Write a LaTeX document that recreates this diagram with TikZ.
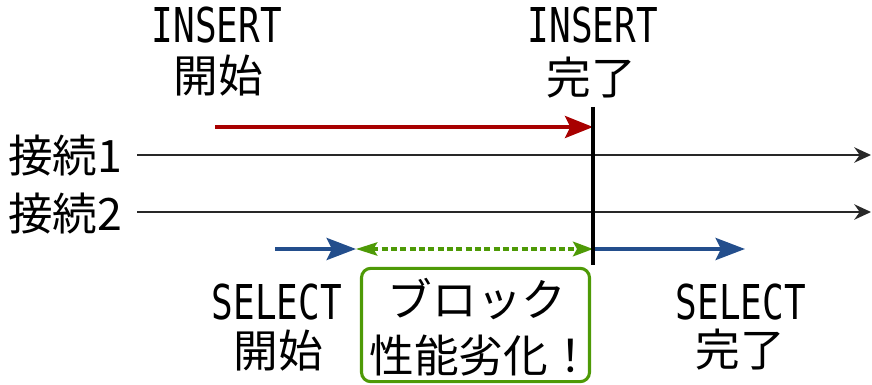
\documentclass[tikz,border=0pt]{standalone}
\usepackage{fontspec}
\newfontfamily\jp{Noto Sans CJK JP}
\newfontfamily\mono[FakeStretch=0.75]{DejaVu Sans Mono}
\usetikzlibrary{arrows.meta}
\definecolor{ired}{RGB}{168,0,0}
\definecolor{sblue}{RGB}{35,78,140}
\definecolor{lgreen}{RGB}{78,154,6}
\definecolor{lgray}{RGB}{40,40,40}
\tikzset{
  jptext/.style={inner sep=0pt, anchor=base, font=\jp\fontsize{33.5pt}{36pt}\selectfont},
  latext/.style={inner sep=0pt, anchor=base, font=\mono\fontsize{36pt}{40pt}\selectfont},
  connline/.style={draw=lgray, line width=1.6pt, -{Stealth[length=12.5pt,width=11.5pt]}},
  insarrow/.style={draw=ired, line width=3pt, -{Stealth[length=21pt,width=16.5pt,inset=4pt]}},
  selarrow/.style={draw=sblue, line width=3pt, -{Stealth[length=22pt,width=16.5pt,inset=4pt]}},
  blockarrow/.style={draw=lgreen, line width=2.4pt, dash pattern=on 4.5pt off 2.5pt,
     {Stealth[length=16pt,width=10pt,inset=3pt]}-{Stealth[length=15pt,width=11pt,inset=3pt]}},
  barline/.style={draw=black, line width=3pt},
  blockbox/.style={draw=lgreen, line width=2.3pt, rounded corners=7pt, inner sep=0pt,
     minimum width=171pt, minimum height=85pt},
}
\begin{document}
\begin{tikzpicture}[x=0.75pt, y=-0.75pt]
\useasboundingbox (0,0) rectangle (872,385);
% labels
\node[latext] (ins1) at (217,43) {INSERT};
\node[jptext] (ins1b) at (218,93) {開始};
\node[latext] (ins2) at (593,43) {INSERT};
\node[jptext] (ins2b) at (591,94) {完了};
\node[jptext, anchor=base west] (conn1) at (8,172) {接続1};
\node[jptext, anchor=base west] (conn2) at (8,230) {接続2};
\node[latext] (sel1) at (277,319) {SELECT};
\node[jptext] (sel1b) at (278,367) {開始};
\node[latext] (sel2) at (741,319) {SELECT};
\node[jptext] (sel2b) at (740,366) {完了};
% box
\node[blockbox] (box) at (475.5,325) {};
\node[jptext] (blk1) at (477,316) {ブロック};
\node[jptext] (blk2) at (481,372) {性能劣化！};
% coordinates
\coordinate (c1s) at (137,155);
\coordinate (c1e) at (871,155);
\coordinate (c2s) at (137,212);
\coordinate (c2e) at (871,212);
\coordinate (vtop) at (593,107);
\coordinate (vbot) at (593,265);
\coordinate (rs) at (215,127);
\coordinate (re) at (593,127);
\coordinate (bs) at (275,249);
\coordinate (be) at (356,249);
\coordinate (gs) at (356,249);
\coordinate (ge) at (593,249);
\coordinate (b2s) at (593,249);
\coordinate (b2e) at (745,249);
% lines
\draw[connline] (c1s) -- (c1e);
\draw[connline] (c2s) -- (c2e);
\draw[insarrow] (rs) -- (re);
\draw[selarrow] (bs) -- (be);
\draw[blockarrow] (gs) -- (ge);
\draw[selarrow] (b2s) -- (b2e);
\draw[barline] (vtop) -- (vbot);
\end{tikzpicture}
\end{document}
